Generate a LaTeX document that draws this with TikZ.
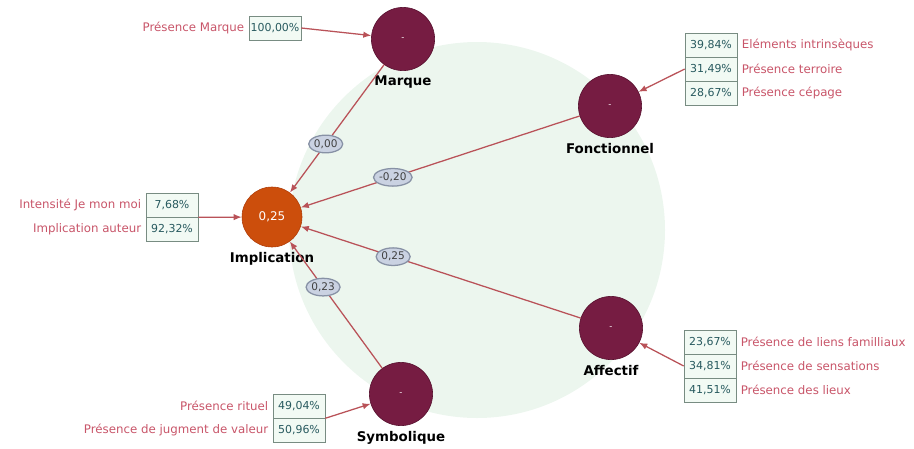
\documentclass[tikz,border=0pt]{standalone}
\usepackage{fontspec}
\setmainfont{DejaVu Sans}
\usetikzlibrary{arrows.meta,positioning,shapes.geometric}
\definecolor{linkred}{RGB}{185,82,88}
\definecolor{labelred}{RGB}{200,85,105}
\definecolor{pcttext}{RGB}{40,90,95}
\definecolor{boxline}{RGB}{120,140,130}
\definecolor{boxfill}{RGB}{242,250,244}
\definecolor{latentfill}{RGB}{118,28,66}
\definecolor{latentline}{RGB}{85,15,45}
\definecolor{implfill}{RGB}{204,78,12}
\definecolor{implline}{RGB}{175,60,8}
\definecolor{coeffill}{RGB}{202,210,226}
\definecolor{coefline}{RGB}{135,145,165}
\definecolor{haze}{RGB}{236,246,238}

\begin{document}
\begin{tikzpicture}[>=Latex, x=0.025cm, y=-0.025cm, node distance=2pt]
  \tikzstyle{latent}=[circle, draw=latentline, fill=latentfill, minimum size=1.58cm, inner sep=0pt, text=white, font=\fontsize{6}{7}\selectfont, label distance=1pt]
  \tikzstyle{target}=[latent, draw=implline, fill=implfill, minimum size=1.5cm, font=\fontsize{8.5}{9}\selectfont]
  \tikzstyle{ind}=[draw=boxline, fill=boxfill, minimum width=1.3cm, minimum height=0.6cm, inner sep=1pt, text=pcttext, font=\fontsize{7.8}{8}\selectfont]
  \tikzstyle{ilabel}=[text=labelred, font=\fontsize{8.4}{9}\selectfont, inner sep=1pt]
  \tikzstyle{coef}=[ellipse, draw=coefline, fill=coeffill, minimum width=0.85cm, minimum height=0.44cm, inner sep=0pt, text=black!75, font=\fontsize{7.5}{8}\selectfont]
  \tikzstyle{link}=[->, draw=linkred, line width=0.9pt, >={Latex[length=2mm,width=1.6mm]}]
  \tikzstyle{lvname}=[font=\bfseries\fontsize{9.5}{10}\selectfont]
  \useasboundingbox (0,0) rectangle (914,448);
  \fill[haze] (477,230) circle (188);

  % latent variables
  \node[latent, label={[lvname]below:Marque}] (mar) at (403,39) {-};
  \node[latent, label={[lvname]below:Fonctionnel}] (fon) at (610,106) {-};
  \node[target, label={[lvname]below:Implication}] (imp) at (272,217) {0,25};
  \node[latent, label={[lvname]below:Affectif}] (aff) at (611,328) {-};
  \node[latent, label={[lvname]below:Symbolique}] (sym) at (401,394) {-};

  % indicators
  \node[ind] (mar1) at (275,28) {100,00\%};
  \node[ilabel, left=of mar1] {Présence Marque};

  \node[ind] (fon1) at (711,45) {39,84\%};
  \node[ind, below=-0.4pt of fon1] (fon2) {31,49\%};
  \node[ind, below=-0.4pt of fon2] (fon3) {28,67\%};
  \node[ilabel, right=of fon1] {Eléments intrinsèques};
  \node[ilabel, right=of fon2] {Présence terroire};
  \node[ilabel, right=of fon3] {Présence cépage};

  \node[ind] (imp1) at (172,205) {7,68\%};
  \node[ind, below=-0.4pt of imp1] (imp2) {92,32\%};
  \node[ilabel, left=of imp1] {Intensité Je mon moi};
  \node[ilabel, left=of imp2] {Implication auteur};

  \node[ind] (aff1) at (710,342) {23,67\%};
  \node[ind, below=-0.4pt of aff1] (aff2) {34,81\%};
  \node[ind, below=-0.4pt of aff2] (aff3) {41,51\%};
  \node[ilabel, right=of aff1] {Présence de liens familliaux};
  \node[ilabel, right=of aff2] {Présence de sensations};
  \node[ilabel, right=of aff3] {Présence des lieux};

  \node[ind] (sym1) at (299,406) {49,04\%};
  \node[ind, below=-0.4pt of sym1] (sym2) {50,96\%};
  \node[ilabel, left=of sym1] {Présence rituel};
  \node[ilabel, left=of sym2] {Présence de jugment de valeur};

  % outer model
  \draw[link] (mar1.east) -- (mar);
  \draw[link] (fon2.west) -- (fon);
  \draw[link] (imp1.south east) -- (imp);
  \draw[link] (aff2.west) -- (aff);
  \draw[link] (sym1.south east) -- (sym);

  % inner model
  \draw[link] (mar) -- node[coef, pos=0.62] {0,00} (imp);
  \draw[link] (fon) -- node[coef, pos=0.67] {-0,20} (imp);
  \draw[link] (aff) -- node[coef, pos=0.67] {0,25} (imp);
  \draw[link] (sym) -- node[coef, pos=0.64] {0,23} (imp);
\end{tikzpicture}
\end{document}
